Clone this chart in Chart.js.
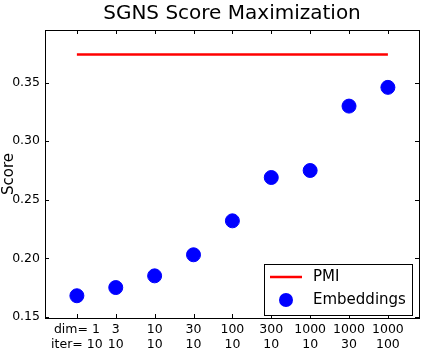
<!DOCTYPE html>
<html>
<head>
<meta charset="utf-8">
<script src="https://cdn.jsdelivr.net/npm/chart.js@4"></script>
<style>
  html, body { margin: 0; padding: 0; background: #fff; }
  #wrap { width: 427px; height: 356px; }
</style>
</head>
<body>
<div id="wrap"><canvas id="chart" width="427" height="356"></canvas></div>
<script>
"use strict";

var dims = ['1', '3', '10', '30', '100', '300', '1000', '1000', '1000'];
var iters = ['10', '10', '10', '10', '10', '10', '10', '30', '100'];
var embeddings = [0.168, 0.175, 0.185, 0.203, 0.232, 0.269, 0.275, 0.330, 0.346];
var pmi = [0.374, 0.374, 0.374, 0.374, 0.374, 0.374, 0.374, 0.374, 0.374];
var yTicks = [0.15, 0.20, 0.25, 0.30, 0.35];

var FONT = "'DejaVu Sans', sans-serif";

// matplotlib style frame + inward ticks + legend inside the axes
var mplPlugin = {
    id: 'mpl',
    afterDatasetsDraw: function (chart) {
        var ctx = chart.ctx;
        var a = chart.chartArea;
        var xs = chart.scales.x, ys = chart.scales.y;
        ctx.save();
        ctx.strokeStyle = '#000';
        ctx.lineWidth = 1;
        ctx.beginPath();
        xs.ticks.forEach(function (t) {
            var px = Math.round(xs.getPixelForValue(t.value)) + 0.5;
            ctx.moveTo(px, a.bottom); ctx.lineTo(px, a.bottom - 4);
            ctx.moveTo(px, a.top); ctx.lineTo(px, a.top + 4);
        });
        ys.ticks.forEach(function (t) {
            var py = Math.round(ys.getPixelForValue(t.value)) + 0.5;
            ctx.moveTo(a.left, py); ctx.lineTo(a.left + 4, py);
            ctx.moveTo(a.right, py); ctx.lineTo(a.right - 4, py);
        });
        ctx.stroke();
        ctx.strokeRect(Math.round(a.left) + 0.5, Math.round(a.top) + 0.5,
            Math.round(a.right - a.left), Math.round(a.bottom - a.top));

        // legend
        var ds = chart.data.datasets;
        var bx = a.right - 155, by = a.bottom - 54, bw = 148, bh = 51;
        ctx.fillStyle = '#fff';
        ctx.fillRect(bx, by, bw, bh);
        ctx.strokeRect(Math.round(bx) + 0.5, Math.round(by) + 0.5, bw, bh);
        ctx.font = '15px ' + FONT;
        ctx.textBaseline = 'middle';
        ctx.textAlign = 'left';
        // line sample
        ctx.strokeStyle = ds[0].borderColor;
        ctx.lineWidth = 2.5;
        ctx.beginPath();
        ctx.moveTo(bx + 6, by + 13); ctx.lineTo(bx + 38, by + 13);
        ctx.stroke();
        ctx.fillStyle = '#000';
        ctx.fillText(ds[0].label, bx + 49, by + 13);
        // marker sample
        ctx.fillStyle = ds[1].backgroundColor;
        ctx.beginPath();
        ctx.arc(bx + 22, by + 36, 7, 0, Math.PI * 2);
        ctx.fill();
        ctx.fillStyle = '#000';
        ctx.fillText(ds[1].label, bx + 49, by + 36);
        ctx.restore();
    }
};

var ctx = document.getElementById('chart').getContext('2d');
var myChart = new Chart(ctx, {
    type: 'scatter',
    data: {
        datasets: [{
            type: 'line',
            label: 'PMI',
            data: pmi.map(function (v, i) { return { x: i, y: v }; }),
            borderColor: '#ff0000',
            borderWidth: 2.5,
            pointRadius: 0,
            fill: false
        }, {
            label: 'Embeddings',
            data: embeddings.map(function (v, i) { return { x: i, y: v }; }),
            backgroundColor: '#0000ff',
            borderColor: '#0000ff',
            pointRadius: 7,
            pointHoverRadius: 7
        }]
    },
    options: {
        responsive: false,
        animation: false,
        events: [],
        layout: { padding: { left: 0, right: 8, top: 0, bottom: 0 } },
        plugins: {
            legend: { display: false },
            tooltip: { enabled: false },
            title: {
                display: true,
                text: 'SGNS Score Maximization',
                color: '#000',
                fullSize: false,
                font: { family: FONT, size: 20, weight: 'normal' },
                padding: { top: 2, bottom: 4 }
            }
        },
        scales: {
            x: {
                type: 'linear',
                min: -0.82,
                max: 8.8,
                afterBuildTicks: function (scale) {
                    scale.ticks = dims.map(function (d, i) { return { value: i }; });
                },
                afterFit: function (scale) { scale.height = 38; },
                grid: { display: false, drawTicks: false },
                border: { display: false },
                ticks: {
                    color: '#000',
                    padding: 4,
                    maxRotation: 0,
                    autoSkip: false,
                    font: { family: FONT, size: 12.5 },
                    callback: function (v) {
                        var i = Math.round(v);
                        if (i === 0) return ['dim= ' + dims[i], 'iter= ' + iters[i]];
                        return [dims[i], iters[i]];
                    }
                }
            },
            y: {
                min: 0.149,
                max: 0.395,
                afterBuildTicks: function (scale) {
                    scale.ticks = yTicks.map(function (v) { return { value: v }; });
                },
                afterFit: function (scale) { scale.width = 45; },
                grid: { display: false, drawTicks: false },
                border: { display: false },
                title: {
                    display: true,
                    text: 'Score',
                    color: '#000',
                    padding: { top: 0, bottom: 0 },
                    font: { family: FONT, size: 15 }
                },
                ticks: {
                    color: '#000',
                    padding: 5,
                    font: { family: FONT, size: 12.5 },
                    callback: function (v) { return v.toFixed(2); }
                }
            }
        }
    },
    plugins: [mplPlugin]
});
</script>
</body>
</html>
